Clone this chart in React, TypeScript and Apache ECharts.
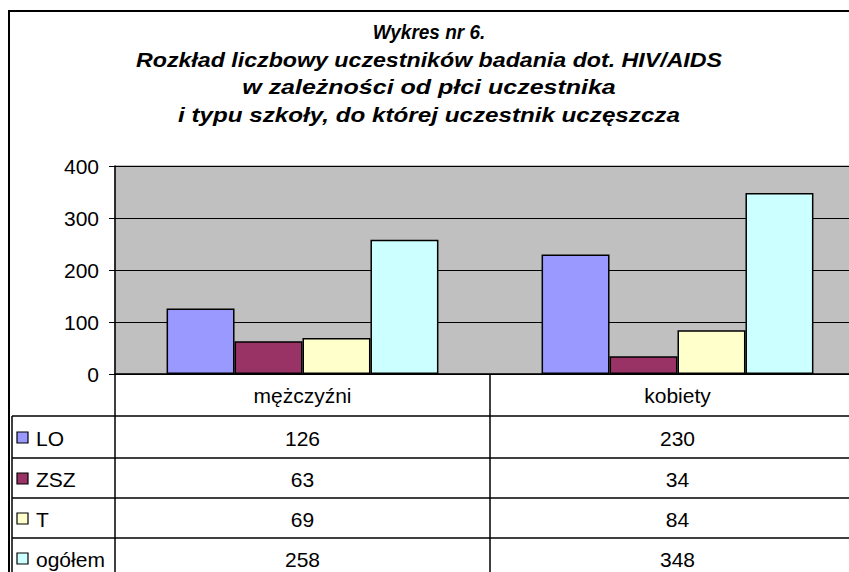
import React, { useEffect, useRef } from "react";
import * as echarts from "echarts";

const categories = ["mężczyźni", "kobiety"];
const seriesNames = ["LO", "ZSZ", "T", "ogółem"];
const seriesColors = ["#9999FF", "#993366", "#FFFFCC", "#CCFFFF"];
const valuesLO = [126, 230];
const valuesZSZ = [63, 34];
const valuesT = [69, 84];
const valuesOgolem = [258, 348];
const yTicks = { min: 0, max: 400, interval: 100 };
const titleLines = [
  "Wykres nr 6.",
  "Rozkład liczbowy uczestników badania dot. HIV/AIDS",
  "w zależności od płci uczestnika",
  "i typu szkoły, do której uczestnik uczęszcza",
];
const titleScaleX = [0.95, 1.16, 1.25, 1.21];

const FONT = "'Liberation Sans', Arial, sans-serif";

export default function App() {
  const ref = useRef<HTMLDivElement>(null);
  useEffect(() => {
    if (!ref.current) return;
    const chart = echarts.init(ref.current, null, { renderer: "svg" });
    const allValues = [valuesLO, valuesZSZ, valuesT, valuesOgolem];
    const gridLeft = 115;
    const gridTop = 166;
    const gridHeight = 208;
    const gridWidth = 750;
    const option: any = {
      animation: false,
      backgroundColor: "#ffffff",
      grid: {
        left: gridLeft,
        top: gridTop,
        width: gridWidth,
        height: gridHeight,
        containLabel: false,
        outerBoundsMode: "none",
        show: true,
        backgroundColor: "#C0C0C0",
        borderColor: "#808080",
        borderWidth: 1,
      },
      xAxis: {
        type: "category",
        data: categories,
        axisLabel: { show: false },
        axisTick: { show: false },
        axisLine: { show: true, lineStyle: { color: "#000", width: 1.5 } },
      },
      yAxis: {
        type: "value",
        min: yTicks.min,
        max: yTicks.max,
        interval: yTicks.interval,
        axisLabel: { fontFamily: FONT, fontSize: 21, color: "#000", margin: 16 },
        axisTick: { show: true, length: 6, lineStyle: { color: "#000" } },
        axisLine: { show: true, lineStyle: { color: "#000", width: 1.5 } },
        splitLine: { show: true, lineStyle: { color: "#000", width: 1 } },
      },
      series: seriesNames.map((name, i) => ({
        name,
        type: "bar",
        data: allValues[i],
        barGap: "0%",
        barCategoryGap: "27.5%",
        itemStyle: { color: seriesColors[i], borderColor: "#000", borderWidth: 1.5 },
      })),
    };
    chart.setOption(option);

    const c0 = chart.convertToPixel({ xAxisIndex: 0 }, 0) as number;
    const c1 = chart.convertToPixel({ xAxisIndex: 0 }, 1) as number;
    const half = (c1 - c0) / 2;
    const colEdges = [c0 - half, c0 + half, c1 + half];
    const headerTop = gridTop + gridHeight;
    const rowTops = [416, 458, 498, 538];
    const rowH = [42, 40, 40, 40];
    const tableLeft = 12;
    const bottom = 580;
    const lineStyle = { stroke: "#000", lineWidth: 1.5 };
    const elements: any[] = [];

    // outer chart frame
    elements.push({
      type: "rect",
      shape: { x: 9, y: 11, width: 900, height: 600 },
      style: { fill: "none", stroke: "#000", lineWidth: 2 },
      silent: true,
    });

    // title
    titleLines.forEach((t, i) => {
      elements.push({
        type: "text",
        x: 429,
        y: 32 + i * 27.7,
        scaleX: titleScaleX[i],
        style: {
          text: t,
          fontFamily: FONT,
          fontSize: 20,
          fontWeight: "bold",
          fontStyle: "italic",
          fill: "#000",
          align: "center",
          verticalAlign: "middle",
        },
      });
    });

    // table lines
    rowTops.forEach((y) => {
      elements.push({ type: "line", shape: { x1: tableLeft, y1: y, x2: 900, y2: y }, style: lineStyle });
    });
    elements.push({ type: "line", shape: { x1: tableLeft, y1: rowTops[0], x2: tableLeft, y2: bottom }, style: lineStyle });
    colEdges.forEach((x) => {
      elements.push({ type: "line", shape: { x1: x, y1: headerTop, x2: x, y2: bottom }, style: lineStyle });
    });

    // header labels
    categories.forEach((cat, j) => {
      const cx = j === 0 ? c0 : c1;
      elements.push({
        type: "text",
        x: cx,
        y: headerTop + 21,
        style: { text: cat, fontFamily: FONT, fontSize: 21, fill: "#000", align: "center", verticalAlign: "middle" },
      });
    });

    // rows
    seriesNames.forEach((name, i) => {
      const yc = rowTops[i] + rowH[i] / 2;
      elements.push({
        type: "rect",
        shape: { x: 17, y: yc - 5, width: 11, height: 11 },
        style: { fill: seriesColors[i], stroke: "#000", lineWidth: 1.2 },
      });
      elements.push({
        type: "text",
        x: 36,
        y: yc + 1,
        style: { text: name, fontFamily: FONT, fontSize: 21, fill: "#000", align: "left", verticalAlign: "middle" },
      });
      allValues[i].forEach((v, j) => {
        const cx = j === 0 ? c0 : c1;
        elements.push({
          type: "text",
          x: cx,
          y: yc + 1,
          style: { text: String(v), fontFamily: FONT, fontSize: 21, fill: "#000", align: "center", verticalAlign: "middle" },
        });
      });
    });

    chart.setOption({ graphic: { elements } });

    return () => chart.dispose();
  }, []);

  return (
    <div
      ref={ref}
      style={{ position: "absolute", left: 0, top: 0, width: 849, height: 572 }}
    />
  );
}
